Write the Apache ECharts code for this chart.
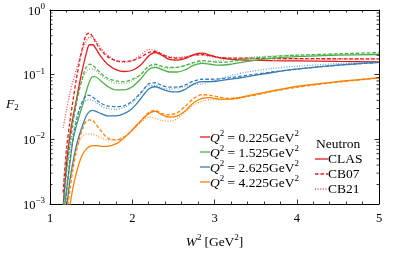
<!DOCTYPE html>
<html><head><meta charset="utf-8">
<script src="https://cdn.jsdelivr.net/npm/echarts@6/dist/echarts.min.js"></script>
<style>html,body{margin:0;padding:0;background:#fff}#c{width:407px;height:254px}</style>
</head><body><div id="c"></div>
<script>
// W^2 grid [GeV^2]
const W2 = [1.16,1.20,1.24,1.28,1.32,1.36,1.40,1.44,1.48,1.52,1.56,1.62,1.70,1.80,1.90,2.00,2.10,2.20,2.28,2.36,2.45,2.55,2.65,2.75,2.85,2.95,3.05,3.2,3.4,3.7,4.0,4.5,5.0];
const Q2_LABELS = ['0.225','1.525','2.625','4.225'];
const MODELS = ['CLAS','CB07','CB21'];
// Q^2 = 0.225
const clas_0225 = [0.0009,0.004,0.011,0.022,0.04,0.075,0.13,0.21,0.29,0.29,0.25,0.19,0.145,0.12,0.112,0.117,0.14,0.195,0.22,0.2,0.172,0.168,0.178,0.205,0.215,0.2,0.183,0.172,0.168,0.165,0.163,0.16,0.158];
const cb07_0225 = [0.0015,0.007,0.018,0.04,0.085,0.16,0.28,0.41,0.44,0.38,0.31,0.24,0.19,0.165,0.16,0.165,0.185,0.22,0.228,0.205,0.185,0.18,0.185,0.2,0.205,0.195,0.185,0.18,0.18,0.178,0.177,0.176,0.175];
const cb21_0225 = [0.015,0.028,0.05,0.08,0.12,0.18,0.25,0.33,0.38,0.38,0.33,0.26,0.2,0.165,0.155,0.165,0.2,0.245,0.238,0.21,0.19,0.185,0.19,0.2,0.2,0.19,0.185,0.18,0.178,0.176,0.175,0.175,0.174];
// Q^2 = 1.525
const clas_1525 = [0.0006,0.0016,0.004,0.01,0.016,0.024,0.035,0.055,0.078,0.093,0.092,0.08,0.066,0.058,0.058,0.065,0.085,0.12,0.13,0.12,0.11,0.11,0.12,0.14,0.15,0.145,0.14,0.145,0.16,0.18,0.19,0.2,0.205];
const cb07_1525 = [0.0008,0.003,0.008,0.018,0.035,0.06,0.095,0.13,0.145,0.14,0.125,0.105,0.088,0.08,0.078,0.085,0.1,0.135,0.145,0.135,0.13,0.13,0.14,0.155,0.165,0.16,0.155,0.16,0.175,0.19,0.2,0.21,0.22];
const cb21_1525 = [0.002,0.006,0.013,0.024,0.04,0.062,0.088,0.11,0.122,0.123,0.115,0.098,0.083,0.074,0.073,0.08,0.1,0.135,0.138,0.128,0.125,0.13,0.14,0.15,0.155,0.16,0.165,0.175,0.185,0.195,0.2,0.205,0.21];
// Q^2 = 2.625
const clas_2625 = [0.0003,0.0008,0.0022,0.0045,0.008,0.012,0.017,0.023,0.027,0.028,0.027,0.025,0.023,0.023,0.025,0.03,0.042,0.06,0.065,0.06,0.055,0.054,0.06,0.072,0.078,0.078,0.08,0.085,0.093,0.108,0.122,0.14,0.155];
const cb07_2625 = [0.0005,0.0015,0.0045,0.01,0.019,0.03,0.04,0.047,0.048,0.045,0.041,0.036,0.033,0.032,0.033,0.039,0.052,0.072,0.075,0.068,0.064,0.064,0.07,0.08,0.085,0.085,0.086,0.09,0.098,0.11,0.122,0.14,0.155];
const cb21_2625 = [0.0009,0.003,0.007,0.013,0.021,0.029,0.036,0.04,0.041,0.04,0.037,0.033,0.03,0.029,0.031,0.037,0.05,0.068,0.068,0.062,0.06,0.062,0.066,0.07,0.072,0.078,0.085,0.097,0.11,0.125,0.135,0.148,0.155];
// Q^2 = 4.225
const clas_4225 = [0.0002,0.0004,0.0009,0.0018,0.003,0.0045,0.006,0.007,0.0077,0.008,0.008,0.0078,0.0078,0.0085,0.0105,0.014,0.019,0.025,0.027,0.024,0.022,0.023,0.028,0.037,0.043,0.044,0.042,0.042,0.047,0.056,0.066,0.078,0.089];
const cb07_4225 = [0.0003,0.0007,0.0016,0.0035,0.0065,0.0105,0.015,0.019,0.02,0.0195,0.017,0.0135,0.0105,0.0098,0.0108,0.014,0.019,0.026,0.028,0.025,0.024,0.026,0.033,0.043,0.049,0.048,0.045,0.043,0.046,0.055,0.064,0.077,0.089];
const cb21_4225 = [0.0005,0.0012,0.0025,0.0045,0.007,0.0095,0.0112,0.012,0.0121,0.012,0.0115,0.0105,0.0098,0.0098,0.011,0.0135,0.018,0.022,0.021,0.0195,0.019,0.021,0.027,0.034,0.039,0.041,0.041,0.043,0.047,0.055,0.064,0.077,0.089];

const X_TICKS = [1,2,3,4,5];
const COLORS = ['#e41a1c','#4daf4a','#377eb8','#ff7f00'];
const STYLES = ['solid',[3.5,2],[1,1.6]];
const ALL = [[clas_0225,cb07_0225,cb21_0225],[clas_1525,cb07_1525,cb21_1525],[clas_2625,cb07_2625,cb21_2625],[clas_4225,cb07_4225,cb21_4225]];

const FONT = 'Liberation Serif';
const series = [];
ALL.forEach((group, qi) => {
  group.forEach((ys, mi) => {
    series.push({
      name: MODELS[mi] + ' ' + Q2_LABELS[qi],
      type: 'line', smooth: 0.3, showSymbol: false, silent: true,
      data: W2.map((x, k) => [x, ys[k]]),
      lineStyle: {color: COLORS[qi], width: 1.3, type: STYLES[mi], opacity: mi === 2 ? 0.75 : 1},
      z: 3
    });
  });
});
// minor log ticks on left & right
const yMinor = [];
for (let e = -3; e < 0; e++) for (let m = 2; m <= 9; m++) yMinor.push(m * Math.pow(10, e));
series.push({
  type: 'custom', silent: true, clip: false, z: 5,
  data: yMinor.map(v => [1, v]),
  renderItem: (params, api) => {
    const v = api.value(1);
    const l = api.coord([1, v]);
    const r = api.coord([5, v]);
    const st = {stroke: '#000', lineWidth: 0.8};
    return {type: 'group', children: [
      {type: 'line', shape: {x1: l[0], y1: l[1], x2: l[0] + 2.5, y2: l[1]}, style: st},
      {type: 'line', shape: {x1: r[0] - 2.5, y1: r[1], x2: r[0], y2: r[1]}, style: st}
    ]};
  }
});

const axisLine = {show: true, lineStyle: {color: '#000', width: 1}};
const chart = echarts.init(document.getElementById('c'), null, {renderer: 'canvas'});
const supRich = (fs) => ({
  i: {fontFamily: FONT, fontStyle: 'italic', fontSize: fs, fill: '#000', color: '#000', verticalAlign: 'bottom', lineHeight: 16},
  n: {fontFamily: FONT, fontSize: fs, fill: '#000', color: '#000', verticalAlign: 'bottom', lineHeight: 16},
  s: {fontFamily: FONT, fontSize: 9, fill: '#000', color: '#000', verticalAlign: 'top', lineHeight: 16}
});
chart.setOption({
  animation: false,
  backgroundColor: '#fff',
  grid: {left: 50, right: 28, top: 10, bottom: 47},
  xAxis: [{
    type: 'value', min: 1, max: 5, interval: 1, position: 'bottom',
    axisLine, splitLine: {show: false},
    axisTick: {inside: true, length: 4.5, lineStyle: {color: '#000', width: 0.8}},
    minorTick: {show: true, splitNumber: 5, length: 2.5, lineStyle: {color: '#000', width: 0.8}},
    axisLabel: {color: '#000', fontFamily: FONT, fontSize: 12.5, margin: 8,
      formatter: v => X_TICKS.includes(v) ? String(v) : ''},
    name: '{i|W}{s|2} {n|[GeV}{s|2}{n|]}', nameLocation: 'middle', nameGap: 29,
    nameTextStyle: {color: '#000', fontFamily: FONT, rich: supRich(13.5)}
  }, {
    type: 'value', min: 1, max: 5, interval: 1, position: 'top',
    axisLine, splitLine: {show: false}, axisLabel: {show: false},
    axisTick: {inside: true, length: 4.5, lineStyle: {color: '#000', width: 0.8}},
    minorTick: {show: true, splitNumber: 5, length: 2.5, lineStyle: {color: '#000', width: 0.8}}
  }],
  yAxis: [{
    type: 'log', logBase: 10, min: 0.001, max: 1, position: 'left',
    axisLine, splitLine: {show: false},
    axisTick: {inside: true, length: 4.5, lineStyle: {color: '#000', width: 0.8}},
    axisLabel: {color: '#000', fontFamily: FONT, margin: 5,
      formatter: v => { const e = Math.round(Math.log10(v)); return '{b|10}{s|' + (e === 0 ? '0' : '\u2212' + (-e)) + '}'; },
      rich: {
        b: {fontFamily: FONT, fontSize: 12.5, color: '#000', verticalAlign: 'bottom', lineHeight: 16},
        s: {fontFamily: FONT, fontSize: 9, color: '#000', verticalAlign: 'top', lineHeight: 16}
      }}
  }, {
    type: 'log', logBase: 10, min: 0.001, max: 1, position: 'right',
    axisLine, splitLine: {show: false}, axisLabel: {show: false},
    axisTick: {inside: true, length: 4.5, lineStyle: {color: '#000', width: 0.8}}
  }],
  series,
  graphic: [
    {type: 'text', left: 6, top: 97, style: {text: '{i|F}{s|2}', rich: {
      i: {fontFamily: FONT, fontStyle: 'italic', fontSize: 13.5, fill: '#000', verticalAlign: 'top', lineHeight: 15},
      s: {fontFamily: FONT, fontSize: 9, fill: '#000', verticalAlign: 'bottom', lineHeight: 15}
    }}},
    ...Q2_LABELS.flatMap((q, i) => {
      const y = 137 + i * 15;
      return [
        {type: 'line', shape: {x1: 200, y1: y, x2: 210, y2: y}, style: {stroke: COLORS[i], lineWidth: 1.3}},
        {type: 'text', x: 210, y: y, style: {text: '{i|Q}{s|2}{n| = ' + q + 'GeV}{s|2}', verticalAlign: 'middle', rich: supRich(13.5)}}
      ];
    }),
    {type: 'text', x: 316, y: 144, style: {text: 'Neutron', fontFamily: FONT, fontSize: 13.5, fill: '#000', verticalAlign: 'middle'}},
    ...MODELS.flatMap((m, i) => {
      const y = 159 + i * 15;
      return [
        {type: 'line', shape: {x1: 315, y1: y, x2: 328, y2: y}, style: {stroke: COLORS[0], lineWidth: 1.3, lineDash: i === 0 ? null : STYLES[i], opacity: i === 2 ? 0.75 : 1}},
        {type: 'text', x: 328, y: y, style: {text: m, fontFamily: FONT, fontSize: 13.5, fill: '#000', verticalAlign: 'middle'}}
      ];
    })
  ]
});
</script></body></html>
